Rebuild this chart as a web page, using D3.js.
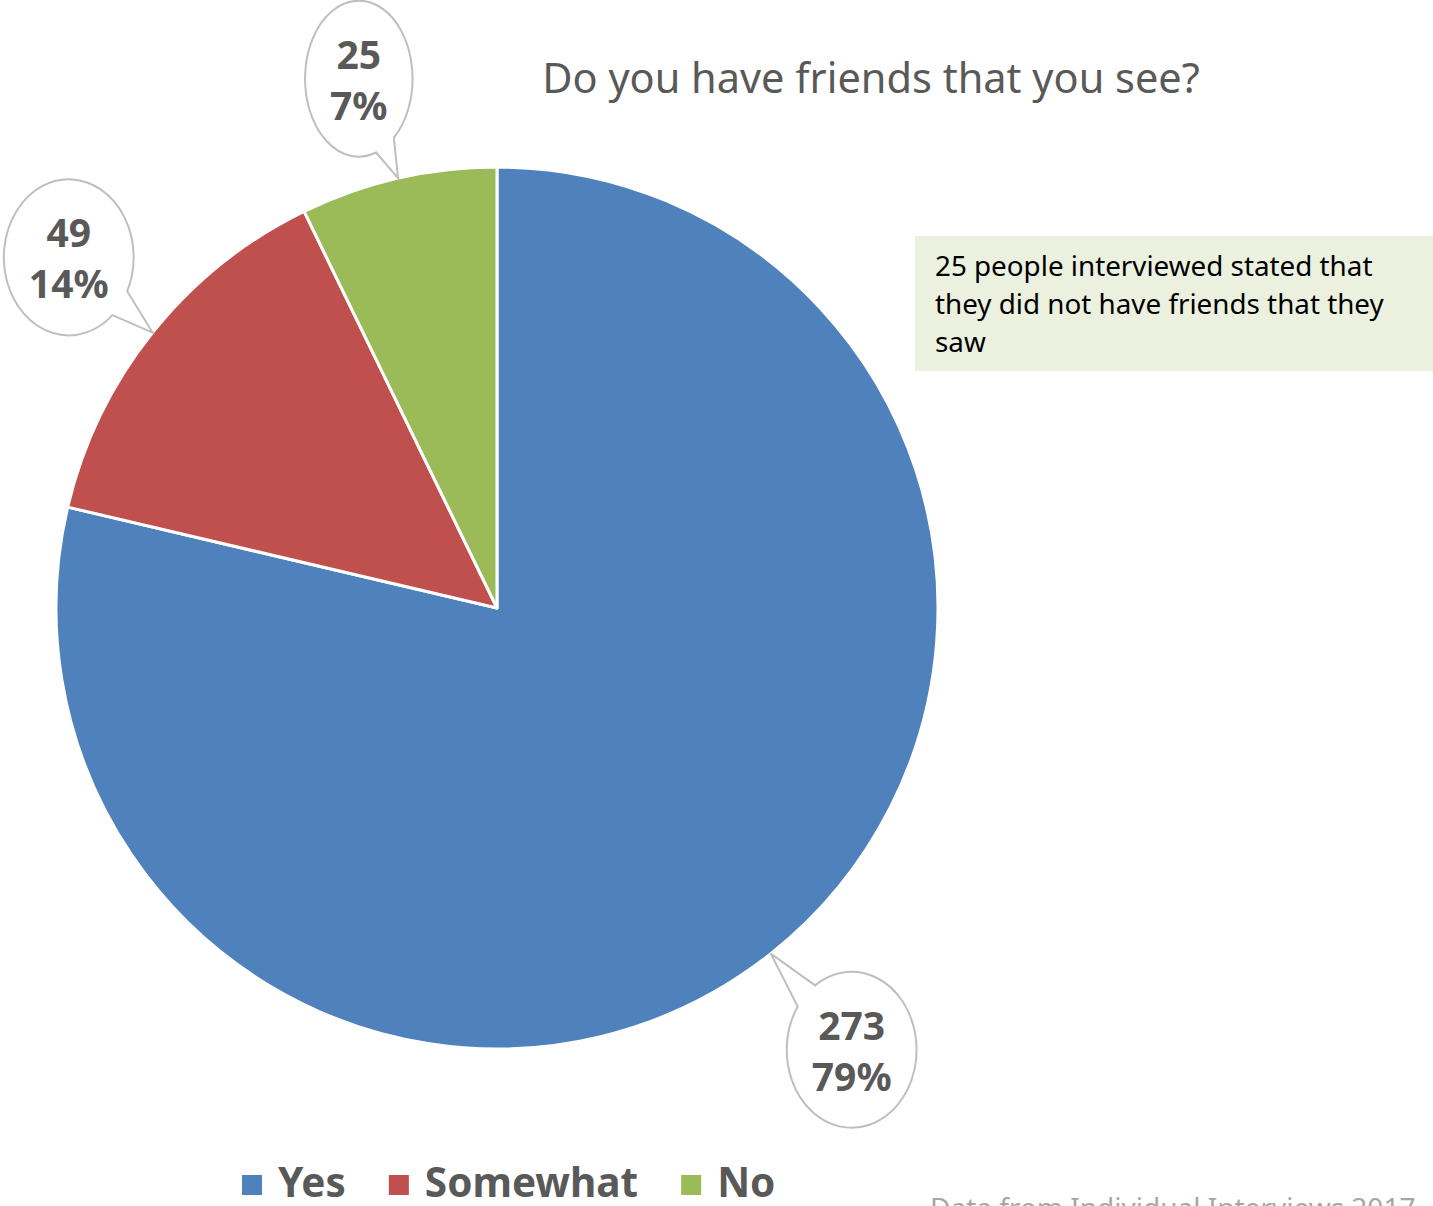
<!DOCTYPE html>
<html>
<head>
<meta charset="utf-8">
<script src="https://cdn.jsdelivr.net/npm/d3@7/dist/d3.min.js"></script>
<style>
  html, body { margin: 0; padding: 0; background: #fff; }
  svg { display: block; font-family: "Noto Sans", "Open Sans", sans-serif; }
</style>
</head>
<body>
<svg id="chart" width="1433" height="1206"></svg>
<script>
// Survey answers: "Do you have friends that you see?"
const categories = ["Yes", "Somewhat", "No"];
const counts = [273, 49, 25];
const colors = ["#4F81BD", "#C0504D", "#9BBB59"];
const titleText = "Do you have friends that you see?";
const noteLines = ["25 people interviewed stated that", "they did not have friends that they", "saw"];
const sourceText = "Data from Individual Interviews 2017";

const W = 1433, H = 1206;
const cx = 497, cy = 608, R = 441;
const textGrey = "#595959";

const svg = d3.select("#chart");
const total = d3.sum(counts);
const data = categories.map((c, i) => ({ cat: c, value: counts[i], color: colors[i] }));

const pie = d3.pie().value(d => d.value).sort(null);
const arcs = pie(data);
const arcGen = d3.arc().innerRadius(0).outerRadius(R);

const g = svg.append("g").attr("transform", `translate(${cx},${cy})`);
g.selectAll("path.slice")
  .data(arcs)
  .join("path")
  .attr("class", "slice")
  .attr("d", arcGen)
  .attr("fill", d => d.data.color)
  .attr("stroke", "#fff")
  .attr("stroke-width", 3)
  .attr("stroke-linejoin", "round");

// Title
svg.append("text")
  .attr("x", 871).attr("y", 93)
  .attr("text-anchor", "middle")
  .attr("font-size", 41.5)
  .attr("fill", textGrey)
  .text(titleText);

// Speech-bubble data labels: bubble sits outside the slice, pointer touches the rim
const fmtPct = v => Math.round(v / total * 100) + "%";
const bubbleFactor = 1.255;
const bubbleNudge = [[11, 8], [4, -5], [-14, 10]]; // per-label fine placement
const ry = 78;
arcs.forEach((a, i) => {
  const mid = (a.startAngle + a.endAngle) / 2;
  const tip = [Math.sin(mid) * R, -Math.cos(mid) * R];
  const ctr = [Math.sin(mid) * R * bubbleFactor + bubbleNudge[i][0],
               -Math.cos(mid) * R * bubbleFactor + bubbleNudge[i][1]];
  const lg = g.append("g").attr("transform", `translate(${ctr[0]},${ctr[1]})`);
  const lines = [String(a.data.value), fmtPct(a.data.value)];
  const path = lg.append("path");
  const texts = lg.selectAll("text").data(lines).join("text")
    .attr("x", 0)
    .attr("y", (d, j) => j === 0 ? -10 : 41)
    .attr("text-anchor", "middle")
    .attr("font-size", 39)
    .attr("font-weight", "bold")
    .attr("fill", textGrey)
    .text(d => d);
  let maxW = 0;
  texts.each(function () { maxW = Math.max(maxW, this.getComputedTextLength()); });
  const rx = maxW / 2 + 25;
  const tl = [tip[0] - ctr[0], tip[1] - ctr[1]];
  const th = Math.atan2(tl[1] / ry, tl[0] / rx);
  const d = 11 * Math.PI / 180;
  const p1 = [rx * Math.cos(th - d), ry * Math.sin(th - d)];
  const p2 = [rx * Math.cos(th + d), ry * Math.sin(th + d)];
  path.attr("d",
      `M${p2[0]},${p2[1]} L${tl[0]},${tl[1]} L${p1[0]},${p1[1]} ` +
      `A${rx},${ry} 0 1 0 ${p2[0]},${p2[1]} Z`)
    .attr("fill", "#fff")
    .attr("stroke", "#BFBFBF")
    .attr("stroke-width", 2);
});

// Annotation note
svg.append("rect")
  .attr("x", 915).attr("y", 236).attr("width", 518).attr("height", 135)
  .attr("fill", "#EBF1DE");
svg.append("g").selectAll("text").data(noteLines).join("text")
  .attr("x", 935)
  .attr("y", (d, i) => 276 + i * 38)
  .attr("font-size", 27.8)
  .attr("fill", "#000")
  .text(d => d);

// Legend
const legend = svg.append("g");
let lx = 242;
data.forEach(d => {
  legend.append("rect")
    .attr("x", lx).attr("y", 1175).attr("width", 20).attr("height", 20)
    .attr("fill", d.color);
  const t = legend.append("text")
    .attr("x", lx + 36).attr("y", 1197)
    .attr("font-size", 40.5)
    .attr("font-weight", "bold")
    .attr("fill", textGrey)
    .text(d.cat);
  lx += 36 + t.node().getComputedTextLength() + 43;
});

// Source note
svg.append("text")
  .attr("x", 930).attr("y", 1218)
  .attr("font-size", 28)
  .attr("fill", "#A6A6A6")
  .text(sourceText);
</script>
</body>
</html>
